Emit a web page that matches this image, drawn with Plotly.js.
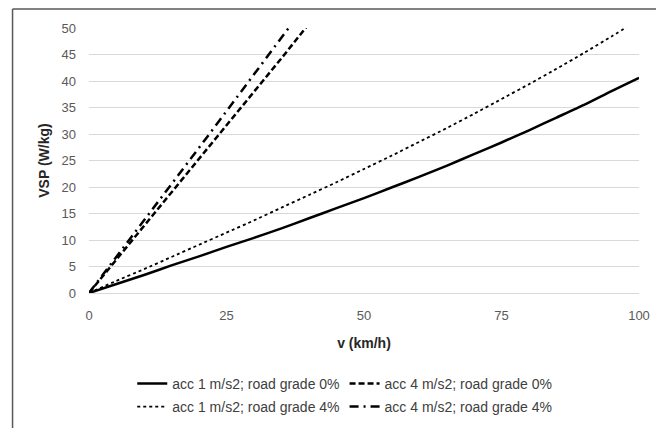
<!DOCTYPE html>
<html>
<head>
<meta charset="utf-8">
<script src="https://cdn.plot.ly/plotly-3.0.1.min.js"></script>
<style>html,body{margin:0;padding:0;background:#fff;}#chart{width:656px;height:428px;}</style>
</head>
<body>
<div id="chart"></div>
<script>
// Speed (km/h) samples
const speedLow = [0, 5, 10, 15, 20, 25, 30, 35, 40, 45, 50, 55, 60, 65, 70, 75, 80, 85, 90, 95, 100];
const speedHigh = [0, 5, 10, 15, 20, 25, 30, 35, 40, 45];

// VSP (W/kg)
const vspAcc1Grade0 = [0, 1.7, 3.4, 5.2, 6.9, 8.7, 10.4, 12.2, 14.1, 16.0, 17.9, 19.9, 21.9, 24.0, 26.2, 28.4, 30.7, 33.1, 35.5, 38.1, 40.6];
const vspAcc4Grade0 = [0, 6.3, 12.6, 18.9, 25.2, 31.6, 37.9, 44.3, 50.8, 57.2];
const vspAcc1Grade4 = [0, 2.3, 4.5, 6.8, 9.1, 11.4, 13.7, 16.1, 18.5, 20.9, 23.4, 25.9, 28.5, 31.1, 33.8, 36.6, 39.4, 42.3, 45.3, 48.4, 51.6];
const vspAcc4Grade4 = [0, 6.8, 13.7, 20.5, 27.4, 34.3, 41.2, 48.1, 55.1, 62.1];

const seriesNames = [
  "acc 1 m/s2; road grade 0%",
  "acc 4 m/s2; road grade 0%",
  "acc 1 m/s2; road grade 4%",
  "acc 4 m/s2; road grade 4%"
];

const xTicks = [0, 25, 50, 75, 100];
const yTicks = [0, 5, 10, 15, 20, 25, 30, 35, 40, 45, 50];

const FONT = "Liberation Sans, Arial, sans-serif";

const traces = [
  {x: speedLow, y: vspAcc1Grade0, name: seriesNames[0], mode: "lines", legend: "legend",
   line: {color: "#000000", width: 2.5, dash: "solid", shape: "spline", smoothing: 0.6}},
  {x: speedHigh, y: vspAcc4Grade0, name: seriesNames[1], mode: "lines", legend: "legend",
   line: {color: "#000000", width: 2.5, dash: "6px,3px"}},
  {x: speedLow, y: vspAcc1Grade4, name: seriesNames[2], mode: "lines", legend: "legend2",
   line: {color: "#000000", width: 1.8, dash: "dot", shape: "spline", smoothing: 0.6}},
  {x: speedHigh, y: vspAcc4Grade4, name: seriesNames[3], mode: "lines", legend: "legend2",
   line: {color: "#000000", width: 2.5, dash: "9px,5px,2px,5px"}}
];

const legendCommon = {
  orientation: "h",
  xref: "paper", yref: "paper",
  x: 0.465, xanchor: "center",
  yanchor: "middle",
  font: {family: FONT, size: 14, color: "#404040"},
  bgcolor: "rgba(0,0,0,0)",
  itemwidth: 30,
  tracegroupgap: 0,
  traceorder: "normal"
};

const layout = {
  width: 656, height: 428,
  margin: {l: 89, r: 17, t: 28, b: 135, autoexpand: false},
  paper_bgcolor: "#ffffff",
  plot_bgcolor: "#ffffff",
  font: {family: FONT, size: 13, color: "#595959"},
  showlegend: true,
  legend: Object.assign({}, legendCommon, {y: -0.343}),
  legend2: Object.assign({}, legendCommon, {y: -0.430}),
  xaxis: {
    range: [0, 100], automargin: false,
    tickmode: "array", tickvals: xTicks, ticktext: xTicks.map(String),
    showgrid: false, zeroline: false, showline: false, ticks: "",
    ticklabelstandoff: 13,
    tickfont: {family: FONT, size: 13, color: "#595959"},
    title: {text: "<b>v (km/h)</b>", font: {family: FONT, size: 14, color: "#262626"}, standoff: 16}
  },
  yaxis: {
    range: [0, 50], automargin: false,
    tickmode: "array", tickvals: yTicks, ticktext: yTicks.map(String),
    showgrid: true, gridcolor: "#d9d9d9", gridwidth: 1,
    zeroline: true, zerolinecolor: "#d9d9d9", zerolinewidth: 1,
    showline: false, ticks: "",
    ticklabelstandoff: 12,
    tickfont: {family: FONT, size: 13, color: "#595959"},
    title: {text: "<b>VSP (W/kg)</b>", font: {family: FONT, size: 14, color: "#262626"}, standoff: 8}
  },
  shapes: [
    {type: "line", xref: "paper", yref: "paper", x0: -0.139, x1: -0.139, y0: 1.0717, y1: -0.52,
     line: {color: "#595959", width: 1.5}},
    {type: "line", xref: "paper", yref: "paper", x0: -0.139, x1: 1.04, y0: 1.0717, y1: 1.0717,
     line: {color: "#595959", width: 1.5}}
  ]
};

Plotly.newPlot("chart", traces, layout, {displayModeBar: false, staticPlot: true});
</script>
</body>
</html>
